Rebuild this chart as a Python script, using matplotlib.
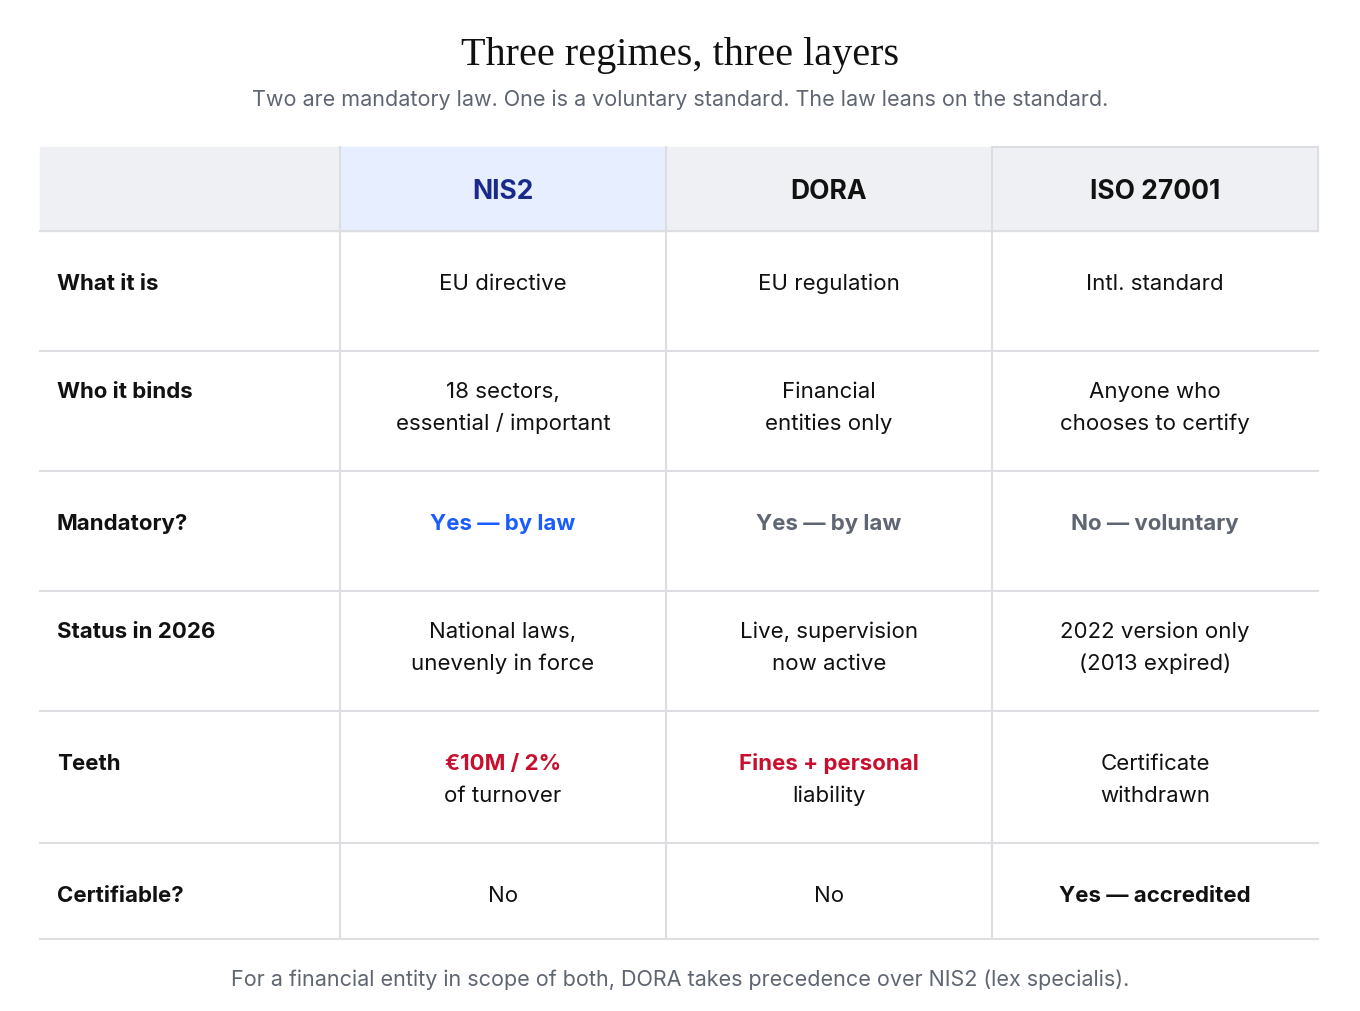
import matplotlib
matplotlib.use("Agg")
import matplotlib.pyplot as plt
from matplotlib.patches import Rectangle

title = "Three regimes, three layers"
subtitle = "Two are mandatory law. One is a voluntary standard. The law leans on the standard."
footnote = "For a financial entity in scope of both, DORA takes precedence over NIS2 (lex specialis)."
columns = ["NIS2", "DORA", "ISO 27001"]
row_labels = ["What it is", "Who it binds", "Mandatory?", "Status in 2026", "Teeth", "Certifiable?"]
cells = [
    [["EU directive"], ["EU regulation"], ["Intl. standard"]],
    [["18 sectors,", "essential / important"], ["Financial", "entities only"], ["Anyone who", "chooses to certify"]],
    [["Yes — by law"], ["Yes — by law"], ["No — voluntary"]],
    [["National laws,", "unevenly in force"], ["Live, supervision", "now active"], ["2022 version only", "(2013 expired)"]],
    [["€10M / 2%", "of turnover"], ["Fines + personal", "liability"], ["Certificate", "withdrawn"]],
    [["No"], ["No"], ["Yes — accredited"]],
]
# style of first line per cell: (color, bold)
first_style = [
    [("#111111", False)] * 3,
    [("#111111", False)] * 3,
    [("#1a5cff", True), ("#5f6672", True), ("#5f6672", True)],
    [("#111111", False)] * 3,
    [("#c8102e", True), ("#c8102e", True), ("#111111", False)],
    [("#111111", False), ("#111111", False), ("#111111", True)],
]

xs = [40, 340, 666, 992, 1318]
ys = [148, 232, 352, 472, 592, 712, 844, 940]
line1_y = [284, 392, 524, 632, 764, 896]

fig = plt.figure(figsize=(13.6, 10.12), dpi=100)
ax = fig.add_axes([0, 0, 1, 1])
ax.set_xlim(0, 1360); ax.set_ylim(1012, 0); ax.axis("off")
F = "Inter"
grid = "#dcdee2"

ax.text(680, 55, title, ha="center", va="center", fontsize=29, family="Liberation Serif", color="#111111")
ax.text(680, 100, subtitle, ha="center", va="center", fontsize=15.5, family=F, color="#5f6672")

ax.add_patch(Rectangle((xs[0], ys[0]), xs[-1]-xs[0], ys[1]-ys[0], color="#eef0f3", zorder=0))
ax.add_patch(Rectangle((xs[1], ys[0]), xs[2]-xs[1], ys[1]-ys[0], color="#e6eeff", zorder=0))
for i, c in enumerate(columns):
    ax.text((xs[i+1]+xs[i+2])/2, 192, c, ha="center", va="center", fontsize=19, weight="bold",
            family=F, color="#1a2a8a" if i == 0 else "#111111")
for y in ys[1:]:
    ax.plot([xs[0], xs[-1]], [y, y], color=grid, lw=1.5)
ax.plot([xs[3], xs[-1]], [ys[0], ys[0]], color=grid, lw=1.5)
ax.plot([xs[-1], xs[-1]], [ys[0], ys[1]], color=grid, lw=1.5)
for x in xs[1:4]:
    ax.plot([x, x], [ys[0], ys[-1]], color=grid, lw=1.5)

for r, lab in enumerate(row_labels):
    ax.text(57, line1_y[r], lab, ha="left", va="center", fontsize=16, weight="bold", family=F, color="#111111")
    for c in range(3):
        cx = (xs[c+1]+xs[c+2])/2
        for k, t in enumerate(cells[r][c]):
            col, b = first_style[r][c] if k == 0 else ("#111111", False)
            ax.text(cx, line1_y[r] + 32*k, t, ha="center", va="center", fontsize=16,
                    weight="bold" if b else "normal", family=F, color=col)

ax.text(680, 980, footnote, ha="center", va="center", fontsize=15.5, family=F, color="#5f6672")
fig.savefig("out.png", dpi=100)
